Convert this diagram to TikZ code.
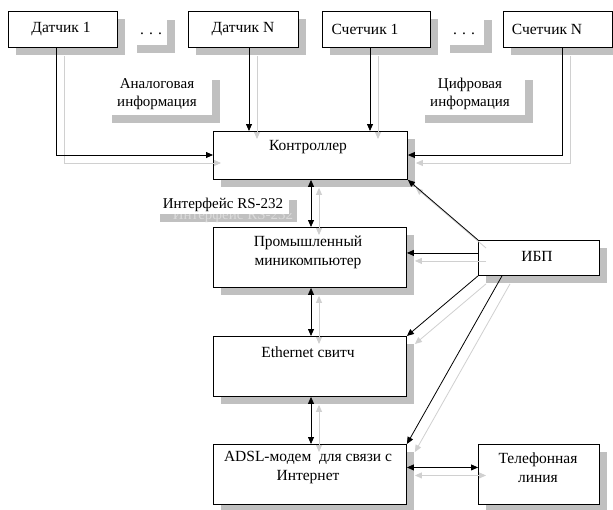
\documentclass[tikz,border=0pt]{standalone}
\usepackage{fontspec}
\setmainfont{Liberation Serif}
\usetikzlibrary{arrows.meta,shadows}
\definecolor{shgray}{RGB}{192,192,192}
\definecolor{lsgray}{RGB}{208,208,208}
\newcommand\conn[2]{\draw[lnshadow,#1] #2; \draw[ln,#1] #2;}
\begin{document}
\begin{tikzpicture}[x=1pt,y=-1pt,
  box/.style={draw=black, line width=0.9pt, fill=white, inner sep=0pt, anchor=north west,
    drop shadow={shadow xshift=8pt, shadow yshift=-8pt, opacity=1, fill=shgray}},
  lbox/.style={draw=none, fill=white, inner sep=0pt, anchor=north west,
    drop shadow={shadow xshift=8pt, shadow yshift=-8pt, opacity=1, fill=shgray}},
  txt/.style={font=\fontsize{15.5}{19}\selectfont, align=center, inner sep=0pt},
  ltxt/.style={font=\fontsize{15}{17.5}\selectfont, align=center, inner sep=0pt},
  ln/.style={draw=black, line width=0.8pt},
  lnshadow/.style={draw=lsgray, line width=0.8pt, transform canvas={shift={(8pt,-8pt)}}},
  tip/.style={-{Triangle[length=7pt,width=6pt]}},
  dtip/.style={{Triangle[length=7pt,width=6pt]}-{Triangle[length=7pt,width=6pt]}}
]
\useasboundingbox (0,0) rectangle (613,509);
\clip (0,0) rectangle (613,509);
\fill[white] (0,0) rectangle (613,509);

% label boxes (no border, with shadow)
\node[lbox, minimum width=38pt, minimum height=33pt] (dots1) at (129,12) {};
\node[lbox, minimum width=42pt, minimum height=33pt] (dots2) at (442,12) {};
\node[lbox, minimum width=108pt, minimum height=43pt] (analog) at (104,72) {};
\node[lbox, minimum width=108pt, minimum height=43pt] (digit) at (417,72) {};

% boxes
\node[box, minimum width=109pt, minimum height=36pt] (d1) at (8,11) {};
\node[box, minimum width=110pt, minimum height=36pt] (dN) at (188,11) {};
\node[box, minimum width=108pt, minimum height=36pt] (c1) at (322,11) {};
\node[box, minimum width=109pt, minimum height=36pt] (cN) at (503,11) {};
\node[box, minimum width=194pt, minimum height=48pt] (ctl) at (213,131) {};
\node[box, minimum width=193pt, minimum height=60pt] (pc) at (213,227) {};
\node[box, minimum width=193pt, minimum height=60pt] (eth) at (213,336) {};
\node[box, minimum width=193pt, minimum height=60pt] (adsl) at (213,444) {};
\node[box, minimum width=121pt, minimum height=35pt] (ups) at (478,240) {};
\node[box, minimum width=121pt, minimum height=60pt] (tel) at (478,444) {};

% RS-232 label: shadow box, faint shadow text, white label box
\fill[shgray] (160,200) rectangle (297,222);
\begin{scope}
  \clip (160,213.5) rectangle (297,222);
  \node[ltxt, text=gray!28] (rsghost) at (233,216) {Интерфейс RS-232};
\end{scope}
\node[draw=none, fill=white, inner sep=0pt, anchor=north west, minimum width=137pt, minimum height=21.5pt] (rsbox) at (152,192) {};

% texts
\node[txt] (t_d1) at (61,29) {Датчик 1};
\node[txt] (t_dN) at (243,29) {Датчик N};
\node[txt] (t_c1) at (365,29) {Счетчик 1};
\node[txt] (t_cN) at (547,29) {Счетчик N};
\node[txt] (t_dots1) at (151,34) {. . .};
\node[txt] (t_dots2) at (464,34) {. . .};
\node[ltxt] (t_an) at (157,94) {Аналоговая\\информация};
\node[ltxt] (t_dg) at (470,94) {Цифровая\\информация};
\node[txt] (t_ctl) at (308,147) {Контроллер};
\node[ltxt] (t_rs) at (223,205) {Интерфейс RS-232};
\node[txt] (t_pc) at (308,252) {Промышленный\\миникомпьютер};
\node[txt] (t_ups) at (537,256) {ИБП};
\node[txt] (t_eth) at (308,352) {Ethernet свитч};
\node[txt] (t_adsl) at (308,468) {ADSL-модем\ \ для связи с\\Интернет};
\node[txt] (t_tel) at (538,468) {Телефонная\\линия};

% connectors (shadow + line)
\conn{tip}{([xshift=48pt]d1.south west) |- ([yshift=-24pt]ctl.north west)}
\conn{tip}{([xshift=61pt]dN.south west) -- ([xshift=61pt]dN.south west |- ctl.north)}
\conn{tip}{([xshift=48pt]c1.south west) -- ([xshift=48pt]c1.south west |- ctl.north)}
\conn{tip}{([xshift=59pt]cN.south west) |- ([yshift=-24pt]ctl.north east)}
\conn{dtip}{([xshift=98pt]ctl.south west) -- ([xshift=98pt]ctl.south west |- pc.north)}
\conn{dtip}{([xshift=98pt]pc.south west) -- ([xshift=98pt]pc.south west |- eth.north)}
\conn{dtip}{([xshift=98pt]eth.south west) -- ([xshift=98pt]eth.south west |- adsl.north)}
\conn{tip}{(ups.north west) -- (ctl.south east)}
\conn{tip}{([yshift=5pt]ups.west) -- ([yshift=5pt]ups.west -| pc.east)}
\conn{tip}{(ups.south west) -- (eth.north east)}
\conn{tip}{([xshift=24pt]ups.south west) -- (adsl.north east)}
\conn{dtip}{([yshift=7pt]adsl.east) -- ([yshift=7pt]tel.west)}
\end{tikzpicture}
\end{document}
